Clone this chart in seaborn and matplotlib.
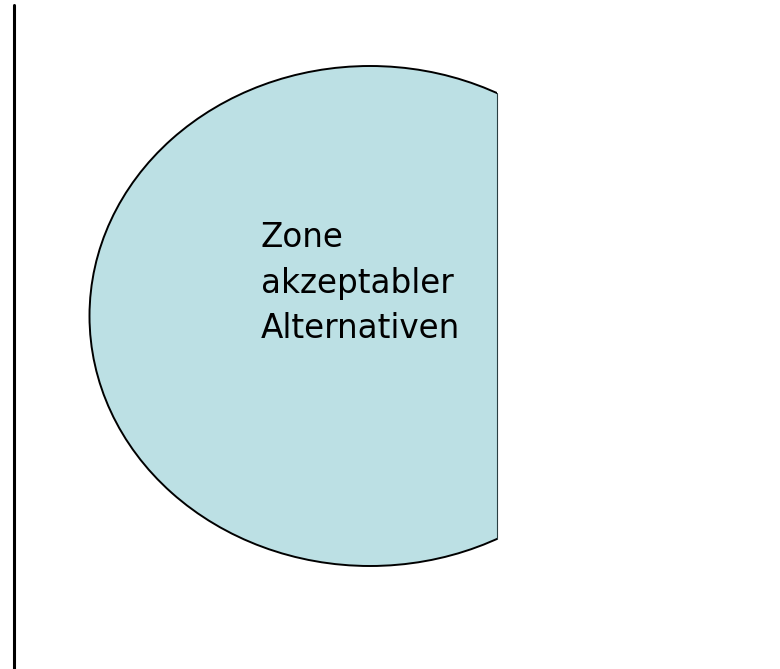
import numpy as np
import pandas as pd
import seaborn as sns
import matplotlib
matplotlib.use("Agg")
import matplotlib.pyplot as plt
from matplotlib.patches import Ellipse, Rectangle

sns.set_theme(style="white")
plt.rcParams['font.family'] = ['DejaVu Sans']

label_lines = ["Zone", "akzeptabler", "Alternativen"]
zone_color = "#BCE0E4"

fig = plt.figure(figsize=(7.8, 6.69), dpi=100)
ax = fig.add_axes([0, 0, 1, 1])
ax.set_xlim(0, 780)
ax.set_ylim(669, 0)
ax.axis("off")

# vertical boundary line
line_df = pd.DataFrame({"x": [14, 14], "y": [5, 669]})
sns.lineplot(data=line_df, x="x", y="y", ax=ax, color="black", linewidth=2.2,
             sort=False, estimator=None)

clip = Rectangle((0, 0), 497, 669, transform=ax.transData)
ell = Ellipse((370, 316), 561, 500, facecolor=zone_color, edgecolor="black",
              linewidth=1.4, zorder=2)
ax.add_patch(ell)
ell.set_clip_path(clip)
ax.plot([497, 497], [93, 539], color="#2a3f42", linewidth=0.8, zorder=3)

for i, t in enumerate(label_lines):
    ax.text(261, 247 + 45.5 * i, t, fontsize=23.5, color="black", va="baseline",
            ha="left", zorder=4)

fig.savefig("out.png", dpi=100)
